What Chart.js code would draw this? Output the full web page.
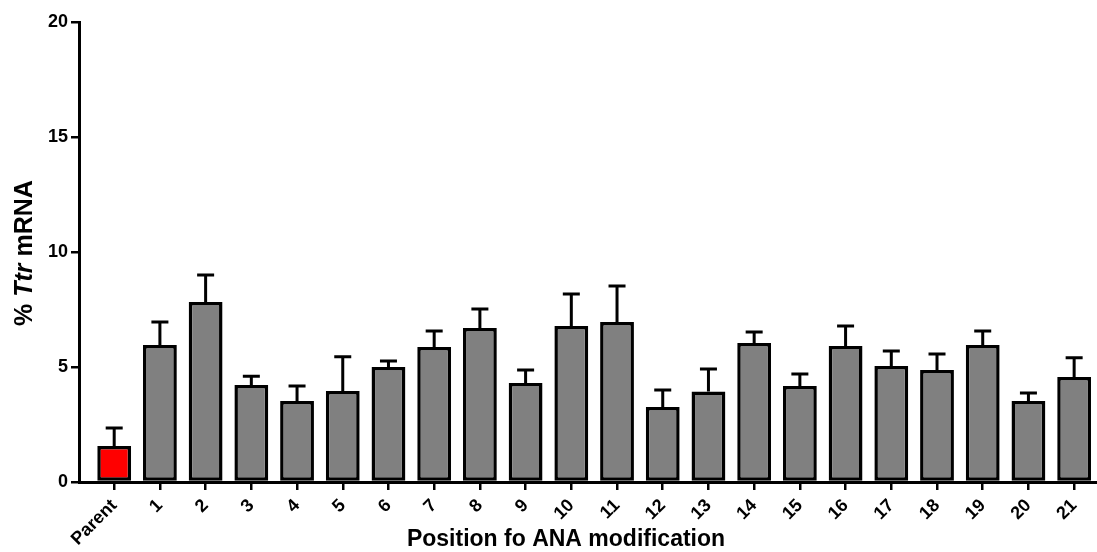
<!DOCTYPE html>
<html>
<head>
<meta charset="utf-8">
<script src="https://cdn.jsdelivr.net/npm/chart.js@4.4.0/dist/chart.umd.min.js"></script>
<style>
  html, body { margin: 0; padding: 0; background: #fff; }
  #wrap { width: 1097px; height: 552px; position: relative; }
</style>
</head>
<body>
<div id="wrap"><canvas id="chart"></canvas></div>
<script>
// categories and values
const categories = ['Parent', '1', '2', '3', '4', '5', '6', '7', '8', '9', '10',
    '11', '12', '13', '14', '15', '16', '17', '18', '19', '20', '21'];
const meanValues = [1.57, 5.96, 7.83, 4.22, 3.52, 3.96, 5.0, 5.87, 6.7, 4.3, 6.78,
    6.96, 3.26, 3.93, 6.04, 4.17, 5.91, 5.04, 4.87, 5.96, 3.52, 4.57];
const errorValues = [0.78, 1.0, 1.17, 0.38, 0.65, 1.49, 0.26, 0.69, 0.82, 0.57, 1.39,
    1.56, 0.74, 0.98, 0.48, 0.53, 0.87, 0.66, 0.7, 0.6, 0.35, 0.83];
const yTicks = [0, 5, 10, 15, 20];

const FONT = '"Liberation Sans", Arial, Helvetica, sans-serif';

// upper error bars with caps
const errorBars = {
    id: 'errorBars',
    afterDatasetsDraw(chart) {
        const { ctx, scales: { x, y } } = chart;
        ctx.save();
        ctx.strokeStyle = '#000';
        ctx.lineWidth = 3;
        meanValues.forEach((v, i) => {
            const px = x.getPixelForValue(i);
            const top = y.getPixelForValue(v);
            const cap = y.getPixelForValue(v + errorValues[i]);
            ctx.beginPath();
            ctx.moveTo(px, top);
            ctx.lineTo(px, cap);
            ctx.moveTo(px - 8.5, cap);
            ctx.lineTo(px + 8.5, cap);
            ctx.stroke();
        });
        ctx.restore();
    }
};

// axis titles (y title has italic gene name)
const axisTitles = {
    id: 'axisTitles',
    afterDraw(chart) {
        const { ctx } = chart;
        ctx.save();
        ctx.fillStyle = '#000';
        ctx.textBaseline = 'middle';

        ctx.font = 'bold 23px ' + FONT;
        ctx.textAlign = 'center';
        ctx.fillText('Position fo ANA modification', 566, 540);

        const parts = [
            { t: '% ', f: 'bold 25px ' + FONT },
            { t: 'Ttr', f: 'italic bold 25px ' + FONT },
            { t: ' mRNA', f: 'bold 25px ' + FONT }
        ];
        let total = 0;
        parts.forEach(p => { ctx.font = p.f; p.w = ctx.measureText(p.t).width; total += p.w; });
        ctx.translate(25, 253);
        ctx.rotate(-Math.PI / 2);
        ctx.textAlign = 'left';
        let cx = -total / 2;
        parts.forEach(p => { ctx.font = p.f; ctx.fillText(p.t, cx, 0); cx += p.w; });
        ctx.restore();
    }
};

const ctx = document.getElementById('chart').getContext('2d');
new Chart(ctx, {
    type: 'bar',
    data: {
        datasets: [{
            data: meanValues.map((v, i) => ({ x: i, y: v })),
            backgroundColor: meanValues.map((v, i) => i === 0 ? '#ff0000' : '#808080'),
            borderColor: '#000',
            borderWidth: 3.5,
            borderSkipped: false,
            categoryPercentage: 0.74,
            barPercentage: 1
        }]
    },
    options: {
        responsive: true,
        maintainAspectRatio: false,
        animation: false,
        layout: { padding: { top: 22, right: 0, left: 0, bottom: 0 } },
        plugins: {
            legend: { display: false },
            tooltip: { enabled: false }
        },
        scales: {
            x: {
                type: 'linear',
                offset: false,
                min: -0.77,
                max: 21.5,
                afterBuildTicks: scale => {
                    scale.ticks = categories.map((c, i) => ({ value: i }));
                },
                afterFit: scale => { scale.height = 70; },
                grid: {
                    offset: false,
                    drawOnChartArea: false,
                    color: '#000',
                    lineWidth: 2.5,
                    tickLength: 8
                },
                border: { color: '#000', width: 3 },
                ticks: {
                    autoSkip: false,
                    minRotation: 45,
                    maxRotation: 45,
                    padding: 5,
                    color: '#000',
                    font: { family: FONT, size: 18, weight: 'bold' },
                    callback: value => categories[value]
                }
            },
            y: {
                min: 0,
                max: 20,
                afterBuildTicks: scale => {
                    scale.ticks = yTicks.map(v => ({ value: v }));
                },
                afterFit: scale => { scale.width = 79; },
                grid: {
                    drawOnChartArea: false,
                    color: '#000',
                    lineWidth: 2.5,
                    tickLength: 8
                },
                border: { color: '#000', width: 3 },
                ticks: {
                    padding: 3,
                    color: '#000',
                    font: { family: FONT, size: 18, weight: 'bold' }
                }
            }
        }
    },
    plugins: [errorBars, axisTitles]
});
</script>
</body>
</html>
